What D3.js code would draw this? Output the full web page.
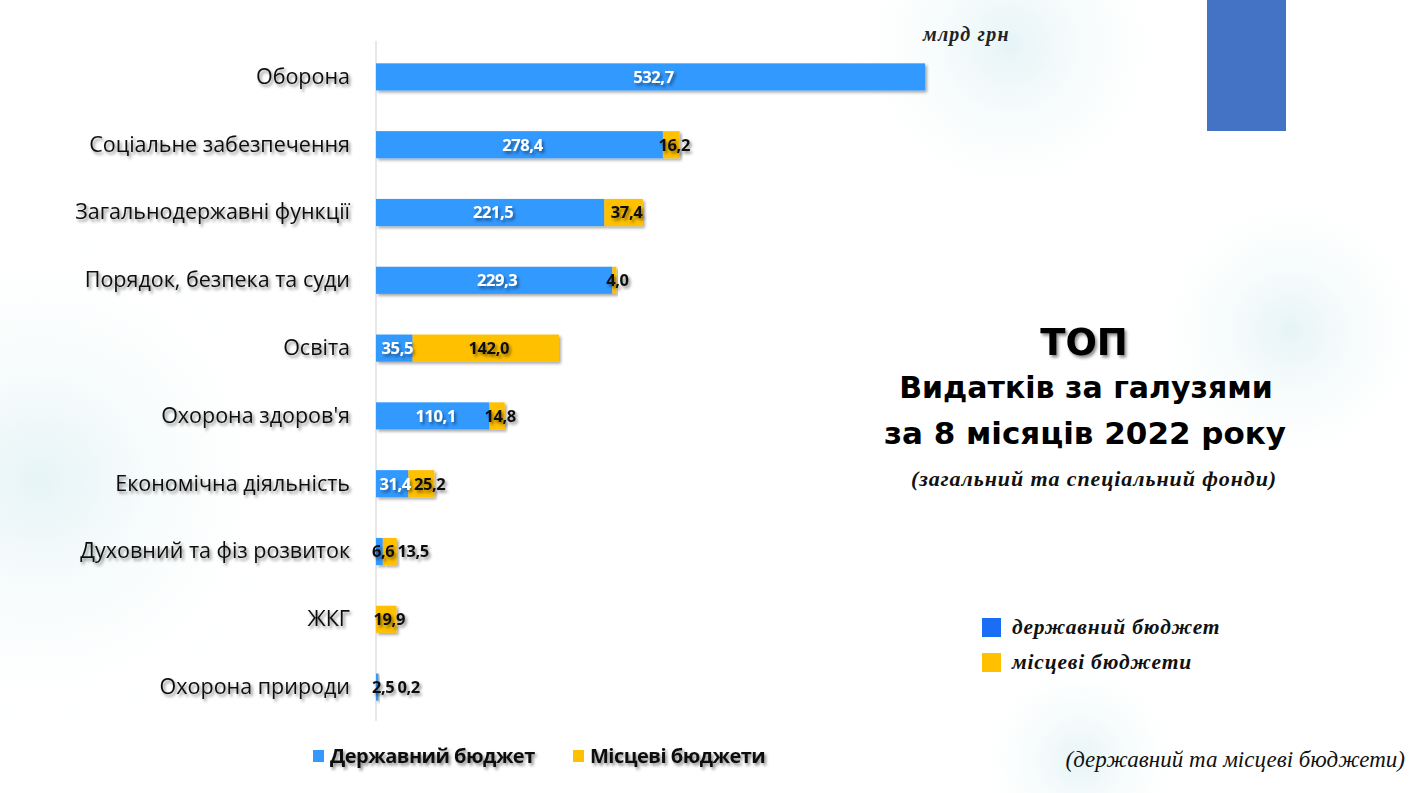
<!DOCTYPE html>
<html>
<head>
<meta charset="utf-8">
<script src="https://cdn.jsdelivr.net/npm/d3@7"></script>
<style>
  html, body { margin: 0; padding: 0; background: #fff; }
  svg { display: block; }
</style>
</head>
<body>
<div id="container"></div>
<script>
const categories = [
  'Оборона',
  'Соціальне забезпечення',
  'Загальнодержавні функції',
  'Порядок, безпека та суди',
  'Освіта',
  "Охорона здоров'я",
  'Економічна діяльність',
  'Духовний та фіз розвиток',
  'ЖКГ',
  'Охорона природи'
];
const stateBudget = [532.7, 278.4, 221.5, 229.3, 35.5, 110.1, 31.4, 6.6, 0, 2.5];
const localBudget = [0, 16.2, 37.4, 4.0, 142.0, 14.8, 25.2, 13.5, 19.9, 0.2];
const seriesNames = ['Державний бюджет', 'Місцеві бюджети'];
const seriesColors = ['#3399FF', '#FFC000'];

const W = 1410, H = 793;
const margin = { top: 43, left: 376 };
const plotH = 678;

const svg = d3.select('#container').append('svg')
  .attr('width', W).attr('height', H);

const defs = svg.append('defs');
// soft background glows
const glow = defs.append('radialGradient').attr('id', 'glow');
glow.append('stop').attr('offset', '0%').attr('stop-color', '#e3f3f5').attr('stop-opacity', 0.9);
glow.append('stop').attr('offset', '100%').attr('stop-color', '#ffffff').attr('stop-opacity', 0);

const shadow = defs.append('filter').attr('id', 'shadow')
  .attr('x', '-10%').attr('y', '-20%').attr('width', '130%').attr('height', '160%');
shadow.append('feDropShadow').attr('dx', 2).attr('dy', 2)
  .attr('stdDeviation', 1.5).attr('flood-color', '#000').attr('flood-opacity', 0.35);

const tshadow = defs.append('filter').attr('id', 'tshadow')
  .attr('x', '-10%').attr('y', '-30%').attr('width', '130%').attr('height', '170%');
tshadow.append('feDropShadow').attr('dx', 2).attr('dy', 2.5)
  .attr('stdDeviation', 1.4).attr('flood-color', '#000').attr('flood-opacity', 0.45);

svg.append('rect').attr('width', W).attr('height', H).attr('fill', '#fff');
[[1010, 45, 170], [40, 480, 260], [1290, 330, 150], [1080, 760, 110]].forEach(([cx, cy, r]) => {
  svg.append('circle').attr('cx', cx).attr('cy', cy).attr('r', r).attr('fill', 'url(#glow)');
});

// decorative blue block top right
svg.append('rect').attr('x', 1207).attr('y', 0).attr('width', 79).attr('height', 131)
  .attr('fill', '#4472C4');

const rows = categories.map((c, i) => ({ cat: c, state: stateBudget[i], local: localBudget[i] }));
const stack = d3.stack().keys(['state', 'local'])(rows);

const yScale = d3.scaleBand()
  .domain(categories)
  .range([margin.top, margin.top + plotH])
  .paddingInner(0.6)
  .paddingOuter(0.3);

const xScale = d3.scaleLinear()
  .domain([0, d3.max(rows, d => d.state + d.local)])
  .range([margin.left, 925]);

// category axis
const yAxis = svg.append('g')
  .attr('transform', `translate(${margin.left},0)`)
  .call(d3.axisLeft(yScale).tickSize(0).tickPadding(26));
yAxis.select('.domain').attr('stroke', '#d9d9d9').attr('stroke-width', 1.2)
  .attr('d', `M0,${margin.top - 2}V${margin.top + plotH}`);
yAxis.selectAll('text')
  .attr('font-family', '"Open Sans", sans-serif')
  .attr('font-size', 21.5)
  .attr('fill', '#111')
  .attr('filter', 'url(#tshadow)');

// bars
const layers = svg.append('g').selectAll('g')
  .data(stack).enter().append('g')
  .attr('fill', (d, i) => seriesColors[i]);

layers.selectAll('rect')
  .data(d => d.filter(s => s[1] - s[0] > 0))
  .enter().append('rect')
  .attr('x', d => xScale(d[0]))
  .attr('y', d => yScale(d.data.cat))
  .attr('width', d => xScale(d[1]) - xScale(d[0]))
  .attr('height', yScale.bandwidth())
  .attr('filter', 'url(#shadow)');

// value labels, pushed right when they would collide
const labelG = svg.append('g')
  .attr('font-family', '"Open Sans", sans-serif')
  .attr('font-weight', 700)
  .attr('font-size', 16.5)
  .attr('letter-spacing', -0.4);
const fmt = v => d3.format('.1f')(v).replace('.', ',');

rows.forEach((r, ri) => {
  let lastEnd = -Infinity;
  stack.forEach((layer, li) => {
    const s = layer[ri];
    const v = s[1] - s[0];
    if (v <= 0) return;
    const x0 = xScale(s[0]), x1 = xScale(s[1]);
    const t = labelG.append('text')
      .attr('y', yScale(r.cat) + yScale.bandwidth() / 2)
      .attr('dy', '0.36em')
      .attr('filter', 'url(#tshadow)')
      .text(fmt(v));
    const tw = t.node().getComputedTextLength();
    let start = (x0 + x1) / 2 + 3 - tw / 2;
    start = Math.max(start, 372, lastEnd + 3);
    lastEnd = start + tw;
    const inside = li === 0 && tw <= (x1 - x0);
    t.attr('x', start)
      .attr('fill', inside ? '#fff' : '#111');
  });
});

// unit label
svg.append('text').attr('x', 923).attr('y', 41)
  .attr('font-family', '"Liberation Serif", serif').attr('font-style', 'italic')
  .attr('font-weight', 700).attr('font-size', 20).attr('letter-spacing', 1.2).attr('fill', '#222')
  .text('млрд грн');

// title block
const titleG = svg.append('g')
  .attr('font-family', '"DejaVu Sans", sans-serif')
  .attr('font-weight', 700).attr('text-anchor', 'middle').attr('fill', '#000');
titleG.append('text').attr('x', 1084).attr('y', 355).attr('font-size', 37)
  .attr('filter', 'url(#tshadow)').text('ТОП');
titleG.append('text').attr('x', 1086).attr('y', 398).attr('font-size', 30).text('Видатків за галузями');
titleG.append('text').attr('x', 1085).attr('y', 444).attr('font-size', 31).text('за 8 місяців 2022 року');
svg.append('text').attr('x', 1094).attr('y', 486).attr('text-anchor', 'middle')
  .attr('font-family', '"Liberation Serif", serif').attr('font-style', 'italic')
  .attr('font-weight', 700).attr('font-size', 22).attr('letter-spacing', 0.9).attr('fill', '#111')
  .text('(загальний та спеціальний фонди)');

// right legend
const rLegend = svg.append('g').selectAll('g')
  .data(seriesNames).enter().append('g')
  .attr('transform', (d, i) => `translate(982,${618 + i * 35})`);
rLegend.append('rect').attr('width', 19).attr('height', 19)
  .attr('fill', (d, i) => i === 0 ? '#1a6ef5' : seriesColors[1]);
rLegend.append('text').attr('x', 30).attr('y', 16)
  .attr('font-family', '"Liberation Serif", serif').attr('font-style', 'italic')
  .attr('font-weight', 700).attr('font-size', 21.5).attr('letter-spacing', 0.8).attr('fill', '#111')
  .text(d => d.toLowerCase());

// bottom legend
const bLegend = svg.append('g').selectAll('g')
  .data(seriesNames).enter().append('g')
  .attr('transform', (d, i) => `translate(${313 + i * 260},750)`);
bLegend.append('rect').attr('width', 11).attr('height', 12)
  .attr('fill', (d, i) => seriesColors[i]);
bLegend.append('text').attr('x', 17).attr('y', 13)
  .attr('font-family', '"Open Sans", sans-serif').attr('font-weight', 700)
  .attr('font-size', 20).attr('letter-spacing', -0.5).attr('fill', '#111')
  .attr('filter', 'url(#tshadow)')
  .text(d => d);

svg.append('text').attr('x', 1405).attr('y', 767).attr('text-anchor', 'end')
  .attr('font-family', '"Liberation Serif", serif').attr('font-style', 'italic')
  .attr('font-size', 23).attr('fill', '#111')
  .text('(державний та місцеві бюджети)');
</script>
</body>
</html>
